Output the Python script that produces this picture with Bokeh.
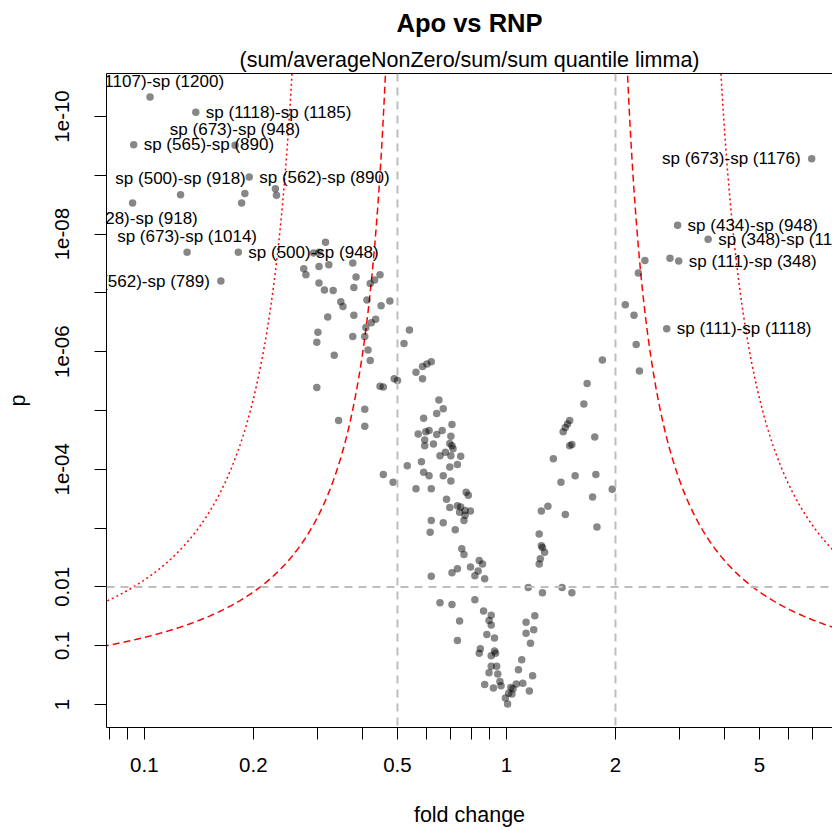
import numpy as np
from bokeh.plotting import figure
from bokeh.models import (Range1d, FixedTicker, CustomJSTickFormatter, Span, Title,
                          ColumnDataSource, LogAxis)
from bokeh.embed import file_html
from bokeh.resources import INLINE
from bokeh.core.properties import value

# ---------------- data (log2 fold change, -log10 p) ----------------
log2_fc = [
    -2.40, -2.43, -2.12, -2.11,
    -1.66, -1.77, -1.72, -1.86, -1.84, -1.72, -1.63, -1.41, -1.72, -1.67, -1.59, -1.38,
    -1.40, -1.25, -1.21, -1.16, -1.52, -1.50, -1.28, -1.07, -1.15,
    -1.64, -1.40, -1.20, -1.24, -1.29, -1.73, -1.74, -1.41, -1.30, -0.89, -0.94, -1.58,
    -1.27, -1.25, -1.74, -1.16, -1.13, -1.03, -1.00, -1.30, -1.54, -1.30,
    -0.77, -0.73, -0.69, -0.83, -0.77, -0.62, -0.58, -0.64, -0.76, -0.50, -0.81, -0.74,
    -0.71, -0.64, -0.59, -0.51, -0.75, -0.67, -0.52, -0.50, -0.49, -0.75, -0.61, -0.56,
    -0.51, -0.42, -0.78, -0.91, -0.52, -0.45, -1.13, -1.04, -0.76, -0.71, -0.58, -0.51,
    -0.83, -0.69, -0.37, -0.35, -0.55, -0.52, -0.45, -0.42, -0.43, -0.38, -0.33, -0.38,
    -0.69, -0.58, -0.39, -0.70, -0.47,
    -0.41, -0.39, -0.25, -0.22, -0.33, -0.26, -0.45, -0.50, -0.29, -0.20, -0.69, 0.20,
    0.51, 0.33, 0.60, -0.61, -0.50, -0.29, -0.21, -0.14, -0.16, -0.14, -0.43, 0.18,
    0.25, 0.18, 0.26, -0.45, -0.18, -0.11, 0.22, -0.24, -0.25, -0.11, -0.10, -0.14,
    0.14, -0.14, -0.09, -0.16, -0.08, -0.06, 0.11, 0.24, -0.20, -0.12, 0.09, 0.15,
    0.04, 0.02, -0.01, 0.01, 0.21, -0.05, 0.06, 0.05,
    0.88, 0.74, 0.71, 0.58, 0.56, 0.54, 0.52, 0.81, 0.60, 0.58, 0.43, 0.63,
    0.82, 0.50, 0.97, 0.79, 0.38, 0.32, 0.54, 0.83, 0.30, 0.32, 0.33, 0.35,
    0.31, 0.30,
    1.27, 1.21, 1.50, 1.09, 1.17, 1.19, 1.22,
]
neg_log10_p = [
    8.69, 8.53, 8.77, 8.66,
    7.86, 7.68, 7.69, 7.41, 7.31, 7.45, 7.48, 7.51, 7.17, 7.05, 7.04, 7.27,
    7.09, 7.16, 7.22, 7.31, 6.85, 6.77, 6.88, 6.86, 6.78,
    6.59, 6.62, 6.55, 6.49, 6.41, 6.33, 6.16, 6.26, 6.26, 6.37, 6.14, 5.94,
    6.03, 5.85, 5.39, 5.41, 5.40, 5.54, 5.51, 5.02, 4.83, 4.73,
    5.75, 5.79, 5.83, 5.65, 5.54, 5.18, 5.03, 4.95, 4.87, 4.76, 4.60, 4.64,
    4.66, 4.59, 4.66, 4.56, 4.50, 4.43, 4.44, 4.40, 4.35, 4.40, 4.23, 4.29,
    4.23, 4.22, 4.13, 4.06, 4.04, 4.08, 3.91, 3.78, 3.95, 3.89, 3.89, 3.80,
    3.67, 3.67, 3.61, 3.56, 3.49, 3.35, 3.38, 3.36, 3.27, 3.30, 3.29, 3.22,
    3.13, 3.09, 3.13, 2.93, 2.97,
    2.65, 2.55, 2.45, 2.39, 2.34, 2.27, 2.31, 2.24, 2.19, 2.14, 2.18, 1.99,
    1.99, 1.90, 1.90, 1.73, 1.70, 1.78, 1.59, 1.52, 1.43, 1.35, 1.42, 1.40,
    1.27, 1.21, 1.51, 1.09, 1.19, 1.13, 1.04, 0.95, 0.87, 0.91, 0.87, 0.83,
    0.76, 0.65, 0.65, 0.54, 0.52, 0.39, 0.59, 0.49, 0.34, 0.28, 0.35, 0.36,
    0.29, 0.19, 0.11, 0.01, 0.23, 0.32, 0.27, 0.18,
    5.86, 5.46, 5.11, 4.83, 4.77, 4.71, 4.64, 4.55, 4.42, 4.40, 4.18, 3.89,
    3.91, 3.78, 3.66, 3.53, 3.37, 3.29, 3.23, 3.02, 2.90, 2.70, 2.67, 2.59,
    2.48, 2.39,
    7.55, 7.34, 7.59, 6.80, 6.62, 6.12, 5.67,
]

# labelled points
label_text = [
    "sp (1107)-sp (1200)", "sp (1118)-sp (1185)", "sp (565)-sp (890)", "sp (673)-sp (948)",
    "sp (562)-sp (890)", "sp (500)-sp (918)", "sp (628)-sp (918)", "sp (673)-sp (1014)",
    "sp (500)-sp (948)", "sp (562)-sp (789)", "sp (673)-sp (1176)", "sp (434)-sp (948)",
    "sp (348)-sp (1176)", "sp (111)-sp (348)", "sp (111)-sp (1118)",
]
label_log2_fc = [-3.27, -2.85, -3.42, -2.49, -2.36, -2.99, -3.43, -2.93, -2.46, -2.62,
                 2.80, 1.57, 1.85, 1.58, 1.47]
label_neg_log10_p = [10.33, 10.07, 9.52, 9.51, 8.97, 8.67, 8.53, 7.69, 7.69, 7.20,
                     9.28, 8.15, 7.91, 7.54, 6.39]
label_side = ["above", "right", "right", "above", "right", "above", "below", "above",
              "right", "left", "left", "right", "right", "right", "right"]

# thresholds
fc_lines = [0.5, 2.0]
p_line = 0.01
# threshold curves: -log10 p = scale / (|log10 fc| - asym)
curve_dashed = (0.255, 0.85)
curve_dotted = (0.492, 1.076)

x_ticks = [0.08, 0.09, 0.1, 0.2, 0.3, 0.4, 0.5, 0.6, 0.7, 0.8, 0.9, 1, 2, 3, 4, 5, 6, 7]
x_tick_labels = {0.1: "0.1", 0.2: "0.2", 0.5: "0.5", 1: "1", 2: "2", 5: "5"}
y_ticks = [1e-10, 1e-9, 1e-8, 1e-7, 1e-6, 1e-5, 1e-4, 1e-3, 1e-2, 1e-1, 1]
y_tick_labels = {1e-10: "1e-10", 1e-8: "1e-08", 1e-6: "1e-06", 1e-4: "1e-04",
                 1e-2: "0.01", 1e-1: "0.1", 1: "1"}

FONT = "Liberation Sans"

# ---------------- figure ----------------
p = figure(width=832, height=830, x_axis_type="log", y_axis_type="log",
           x_range=Range1d(0.0786, 7.95), y_range=Range1d(2.46, 1.86e-11),
           output_backend="svg", toolbar_location=None, title=None,
           min_border_left=106, min_border_right=0, min_border_top=73, min_border_bottom=103)
p.outline_line_color = None
p.xgrid.grid_line_color = None
p.ygrid.grid_line_color = None
p.background_fill_color = "white"
p.border_fill_color = "white"

def fmt(vals_labels):
    vals = list(vals_labels.keys())
    labs = list(vals_labels.values())
    return CustomJSTickFormatter(args=dict(vals=vals, labs=labs), code="""
        for (let i = 0; i < vals.length; i++) {
            if (Math.abs(Math.log10(tick) - Math.log10(vals[i])) < 1e-6) { return labs[i]; }
        }
        return "";
    """)

xa = p.xaxis[0]
xa.ticker = FixedTicker(ticks=x_ticks)
xa.formatter = fmt(x_tick_labels)
ya = p.yaxis[0]
ya.ticker = FixedTicker(ticks=y_ticks)
ya.formatter = fmt(y_tick_labels)
ya.major_label_orientation = "vertical"
xa.axis_label = "fold change"
ya.axis_label = "p"
for ax in (xa, ya):
    ax.minor_tick_line_color = None
    ax.major_tick_out = 12
    ax.major_tick_in = 0
    ax.axis_line_color = "black"
    ax.major_tick_line_color = "black"
    ax.major_label_text_font = FONT
    ax.major_label_text_font_size = "20.5px"
    ax.major_label_text_color = "black"
    ax.axis_label_text_font = FONT
    ax.axis_label_text_font_size = "21.5px"
    ax.axis_label_text_font_style = "normal"
    ax.axis_label_text_color = "black"
xa.major_label_standoff = 18
xa.axis_label_standoff = 28
ya.major_label_standoff = 25
ya.axis_label_standoff = 23

# top border line
top_ax = LogAxis(ticker=FixedTicker(ticks=[]), major_tick_line_color=None,
                 minor_tick_line_color=None, major_label_text_font_size="0px",
                 axis_line_color="black")
p.add_layout(top_ax, "above")
p.add_layout(Title(text="(sum/averageNonZero/sum/sum quantile limma)", align="center",
                   text_font=FONT, text_font_size="21.5px", text_font_style="normal",
                   text_color="black", standoff=4), "above")
p.add_layout(Title(text="Apo vs RNP", align="center", text_font=FONT,
                   text_font_size="25.5px", text_font_style="bold",
                   text_color="black", standoff=13), "above")

# reference lines
for fcv in fc_lines:
    p.add_layout(Span(location=fcv, dimension="height", line_color="#BEBEBE",
                      line_width=2, line_dash="8 6"))
p.add_layout(Span(location=p_line, dimension="width", line_color="#BEBEBE",
                  line_width=2, line_dash="8 6"))

# threshold curves
for (asym, scale), dash in ((curve_dashed, "7 4"), (curve_dotted, "2 3")):
    L = np.linspace(asym + scale / 12.0, 1.3, 600)
    nl = scale / (L - asym)
    cp = 10.0 ** (-nl)
    p.line(10.0 ** (-L), cp, line_color="red", line_width=1.5, line_dash=dash)
    p.line(10.0 ** L, cp, line_color="red", line_width=1.5, line_dash=dash)

# points
fc = 2.0 ** np.array(log2_fc)
pv = 10.0 ** (-np.array(neg_log10_p))
p.scatter(fc, pv, size=7.5, fill_color="black", fill_alpha=0.47, line_color=None)

lfc = 2.0 ** np.array(label_log2_fc)
lpv = 10.0 ** (-np.array(label_neg_log10_p))
p.scatter(lfc, lpv, size=7.5, fill_color="black", fill_alpha=0.47, line_color=None)

side_cfg = {
    "right": dict(text_align="left", x_offset=10, y_offset=0),
    "left": dict(text_align="right", x_offset=-11, y_offset=0),
    "above": dict(text_align="center", x_offset=0, y_offset=-16),
    "below": dict(text_align="center", x_offset=0, y_offset=16),
}
for side, cfg in side_cfg.items():
    idx = [i for i, s in enumerate(label_side) if s == side]
    if not idx:
        continue
    src = ColumnDataSource(dict(x=[lfc[i] for i in idx], y=[lpv[i] for i in idx],
                                t=[label_text[i] for i in idx]))
    p.text(x="x", y="y", text="t", source=src, text_font=value(FONT),
           text_font_size="17px", text_color="black", text_baseline="middle", **cfg)

open("out.html", "w").write(file_html(p, INLINE))
